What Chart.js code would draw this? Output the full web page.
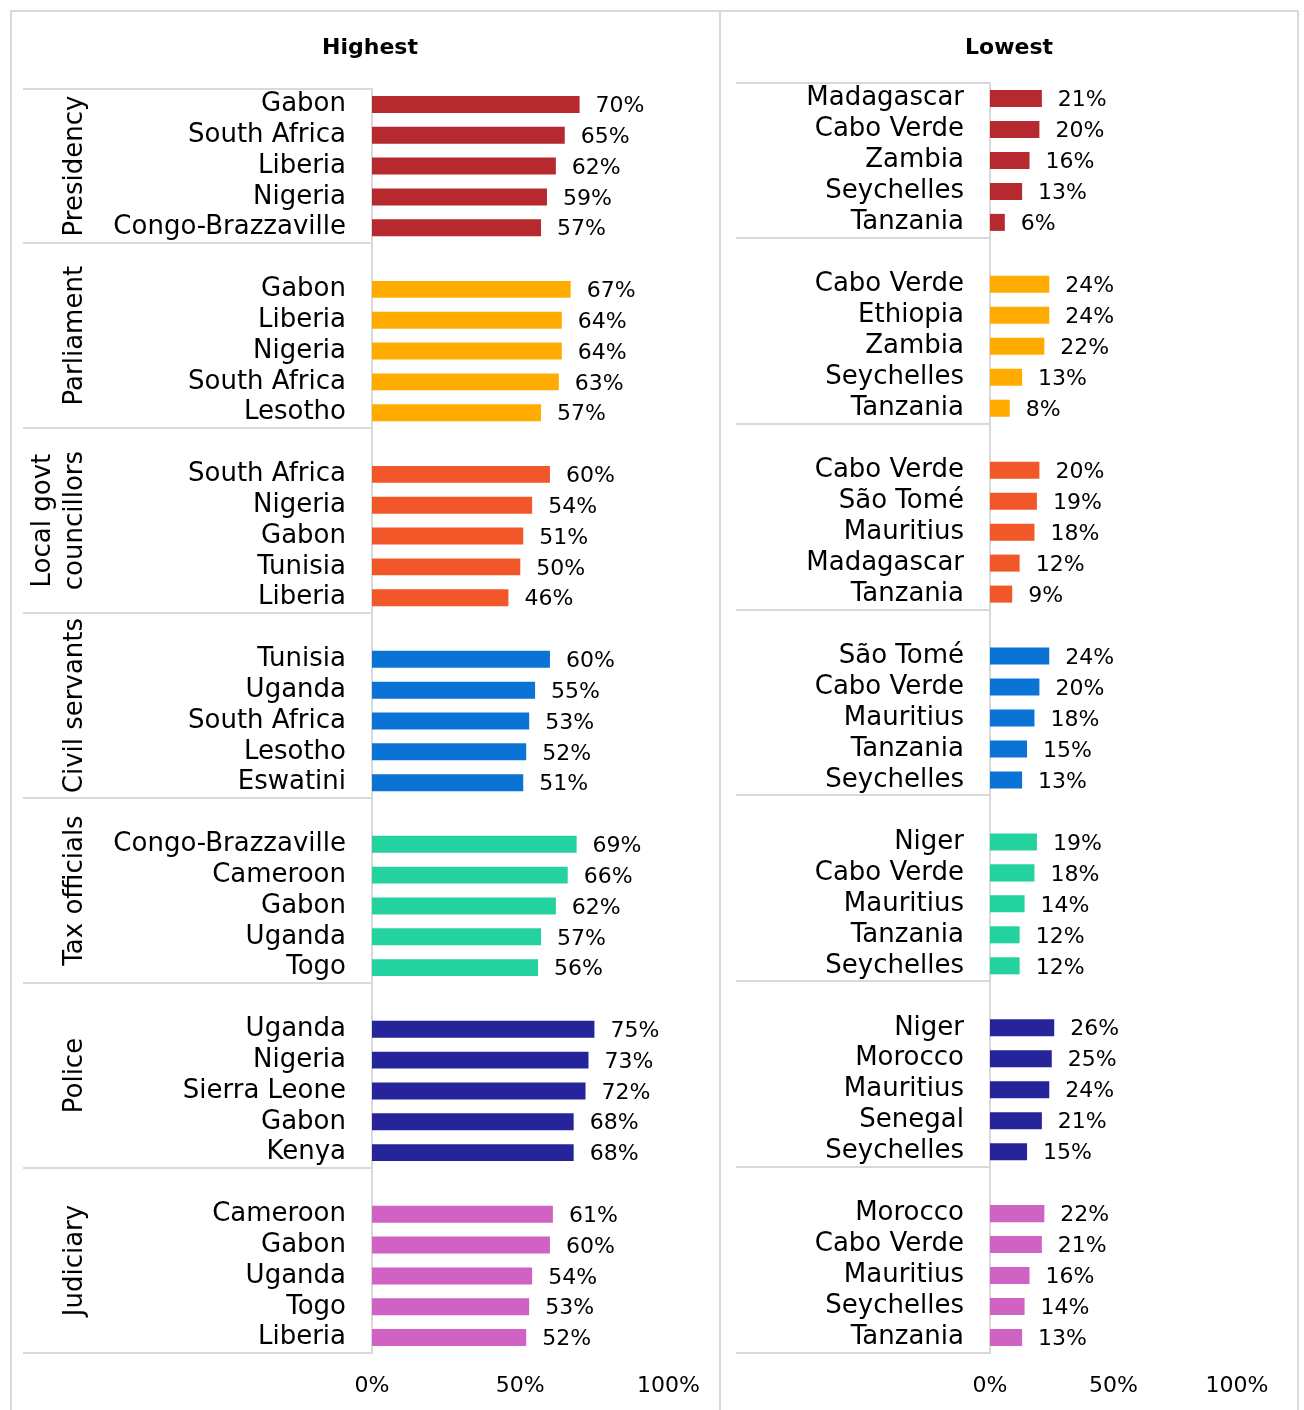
<!DOCTYPE html>
<html lang="en">
<head>
  <meta charset="UTF-8" />
  <title>Highest / Lowest</title>
  <style>
    body { margin: 0; background: #fff; font-family: "DejaVu Sans", sans-serif; }
    .frame {
      position: absolute; left: 10px; top: 10px; width: 1289px; height: 1420px;
      border: 2px solid #d9d9d9; box-sizing: border-box;
    }
    .divider { position: absolute; left: 719px; top: 10px; width: 2px; height: 1400px; background: #d9d9d9; }
    canvas { position: absolute; top: 0; }
    #highChart { left: 20px; }
    #lowChart { left: 720px; }
  </style>
</head>
<body>
<div class="frame"></div>
<div class="divider"></div>
<canvas id="highChart" width="700" height="1410"></canvas>
<canvas id="lowChart" width="578" height="1410"></canvas>

<script src="https://cdn.jsdelivr.net/npm/chart.js"></script>
<script>
  // institutions (one group each), top to bottom
  const groups = [['Presidency'], ['Parliament'], ['Local govt', 'councillors'], ['Civil servants'],
                  ['Tax officials'], ['Police'], ['Judiciary']];
  const groupColors = ['#b5292f', '#ffab00', '#f2572a', '#0b72d6', '#24d2a0', '#25249a', '#d062c4'];

  const highCountries = [
    ['Gabon', 'South Africa', 'Liberia', 'Nigeria', 'Congo-Brazzaville'],
    ['Gabon', 'Liberia', 'Nigeria', 'South Africa', 'Lesotho'],
    ['South Africa', 'Nigeria', 'Gabon', 'Tunisia', 'Liberia'],
    ['Tunisia', 'Uganda', 'South Africa', 'Lesotho', 'Eswatini'],
    ['Congo-Brazzaville', 'Cameroon', 'Gabon', 'Uganda', 'Togo'],
    ['Uganda', 'Nigeria', 'Sierra Leone', 'Gabon', 'Kenya'],
    ['Cameroon', 'Gabon', 'Uganda', 'Togo', 'Liberia']
  ];
  const highValues = [
    [70, 65, 62, 59, 57],
    [67, 64, 64, 63, 57],
    [60, 54, 51, 50, 46],
    [60, 55, 53, 52, 51],
    [69, 66, 62, 57, 56],
    [75, 73, 72, 68, 68],
    [61, 60, 54, 53, 52]
  ];

  const lowCountries = [
    ['Madagascar', 'Cabo Verde', 'Zambia', 'Seychelles', 'Tanzania'],
    ['Cabo Verde', 'Ethiopia', 'Zambia', 'Seychelles', 'Tanzania'],
    ['Cabo Verde', 'São Tomé', 'Mauritius', 'Madagascar', 'Tanzania'],
    ['São Tomé', 'Cabo Verde', 'Mauritius', 'Tanzania', 'Seychelles'],
    ['Niger', 'Cabo Verde', 'Mauritius', 'Tanzania', 'Seychelles'],
    ['Niger', 'Morocco', 'Mauritius', 'Senegal', 'Seychelles'],
    ['Morocco', 'Cabo Verde', 'Mauritius', 'Seychelles', 'Tanzania']
  ];
  const lowValues = [
    [21, 20, 16, 13, 6],
    [24, 24, 22, 13, 8],
    [20, 19, 18, 12, 9],
    [24, 20, 18, 15, 13],
    [19, 18, 14, 12, 12],
    [26, 25, 24, 21, 15],
    [22, 21, 16, 14, 13]
  ];

  const xTicks = [0, 50, 100];
  const FONT = '"DejaVu Sans", sans-serif';

  // flatten groups into one category list, a blank row before every group but the first
  function buildRows(countries, values) {
    const labels = [], data = [], colors = [], spans = [];
    countries.forEach((list, g) => {
      if (g > 0) { labels.push(''); data.push(null); colors.push('transparent'); }
      const start = labels.length - (g > 0 ? 1 : 0);
      list.forEach((c, i) => {
        labels.push(c);
        data.push(values[g][i]);
        colors.push(groupColors[g]);
      });
      spans.push([start, labels.length]);
    });
    return { labels, data, colors, spans };
  }

  const decorPlugin = {
    id: 'decor',
    afterDraw(chart, args, o) {
      const ctx = chart.ctx;
      const area = chart.chartArea;
      const n = chart.data.labels.length;
      const rowH = (area.bottom - area.top) / n;
      const spans = o.spans;

      ctx.save();
      // title
      ctx.fillStyle = '#000';
      ctx.font = 'bold 22px ' + FONT;
      ctx.textAlign = 'center';
      ctx.textBaseline = 'middle';
      ctx.fillText(o.title, o.titleX, 48);

      // group separators
      ctx.strokeStyle = '#d9d9d9';
      ctx.lineWidth = 2;
      const edges = [spans[0][0]].concat(spans.map(s => s[1]));
      edges.forEach(e => {
        const py = Math.round(area.top + e * rowH);
        ctx.beginPath();
        ctx.moveTo(o.lineLeft, py);
        ctx.lineTo(area.left, py);
        ctx.stroke();
      });

      // group names, rotated
      if (o.showGroups) {
        ctx.fillStyle = '#000';
        ctx.font = '26px ' + FONT;
        ctx.textAlign = 'center';
        ctx.textBaseline = 'middle';
        spans.forEach((s, g) => {
          const cy = area.top + (s[0] + s[1]) / 2 * rowH;
          const lines = groups[g];
          lines.forEach((ln, k) => {
            const cx = o.groupX - (lines.length - 1 - k) * 32;
            ctx.save();
            ctx.translate(cx, cy);
            ctx.rotate(-Math.PI / 2);
            ctx.fillText(ln, 0, 0);
            ctx.restore();
          });
        });
      }

      // value labels
      ctx.fillStyle = '#000';
      ctx.font = '22px ' + FONT;
      ctx.textAlign = 'left';
      ctx.textBaseline = 'middle';
      const meta = chart.getDatasetMeta(0);
      meta.data.forEach((bar, i) => {
        const v = chart.data.datasets[0].data[i];
        if (v === null) return;
        ctx.fillText(v + '%', bar.x + 16, bar.y + 2);
      });
      ctx.restore();
    }
  };

  function makeChart(id, countries, values, o) {
    const rows = buildRows(countries, values);
    return new Chart(document.getElementById(id), {
      type: 'bar',
      data: {
        labels: rows.labels,
        datasets: [{
          data: rows.data,
          backgroundColor: rows.colors,
          barPercentage: 0.55,
          categoryPercentage: 1
        }]
      },
      options: {
        indexAxis: 'y',
        responsive: false,
        animation: false,
        layout: { padding: { top: o.top, right: o.right, left: 0, bottom: 0 } },
        plugins: {
          legend: { display: false },
          tooltip: { enabled: false },
          decor: Object.assign({ spans: rows.spans }, o)
        },
        scales: {
          x: {
            min: 0, max: 100,
            afterBuildTicks: s => { s.ticks = xTicks.map(v => ({ value: v })); },
            afterFit: s => { s.height = 57; },
            grid: { display: false, drawTicks: false },
            border: { display: false },
            ticks: {
              padding: 20, color: '#000',
              font: { family: FONT, size: 22 },
              callback: v => v + '%'
            }
          },
          y: {
            afterFit: s => { s.width = o.axisWidth; },
            grid: { display: false, drawTicks: false },
            border: { display: true, color: '#d9d9d9', width: 2 },
            ticks: {
              autoSkip: false, padding: 26, color: '#000',
              font: { family: FONT, size: 26 }
            }
          }
        }
      },
      plugins: [decorPlugin]
    });
  }

  makeChart('highChart', highCountries, highValues, {
    title: 'Highest', titleX: 350, top: 89, right: 50, axisWidth: 352,
    lineLeft: 3, groupX: 55, showGroups: true
  });
  makeChart('lowChart', lowCountries, lowValues, {
    title: 'Lowest', titleX: 289, top: 83, right: 61, axisWidth: 270,
    lineLeft: 16, groupX: 0, showGroups: false
  });
</script>
</body>
</html>
